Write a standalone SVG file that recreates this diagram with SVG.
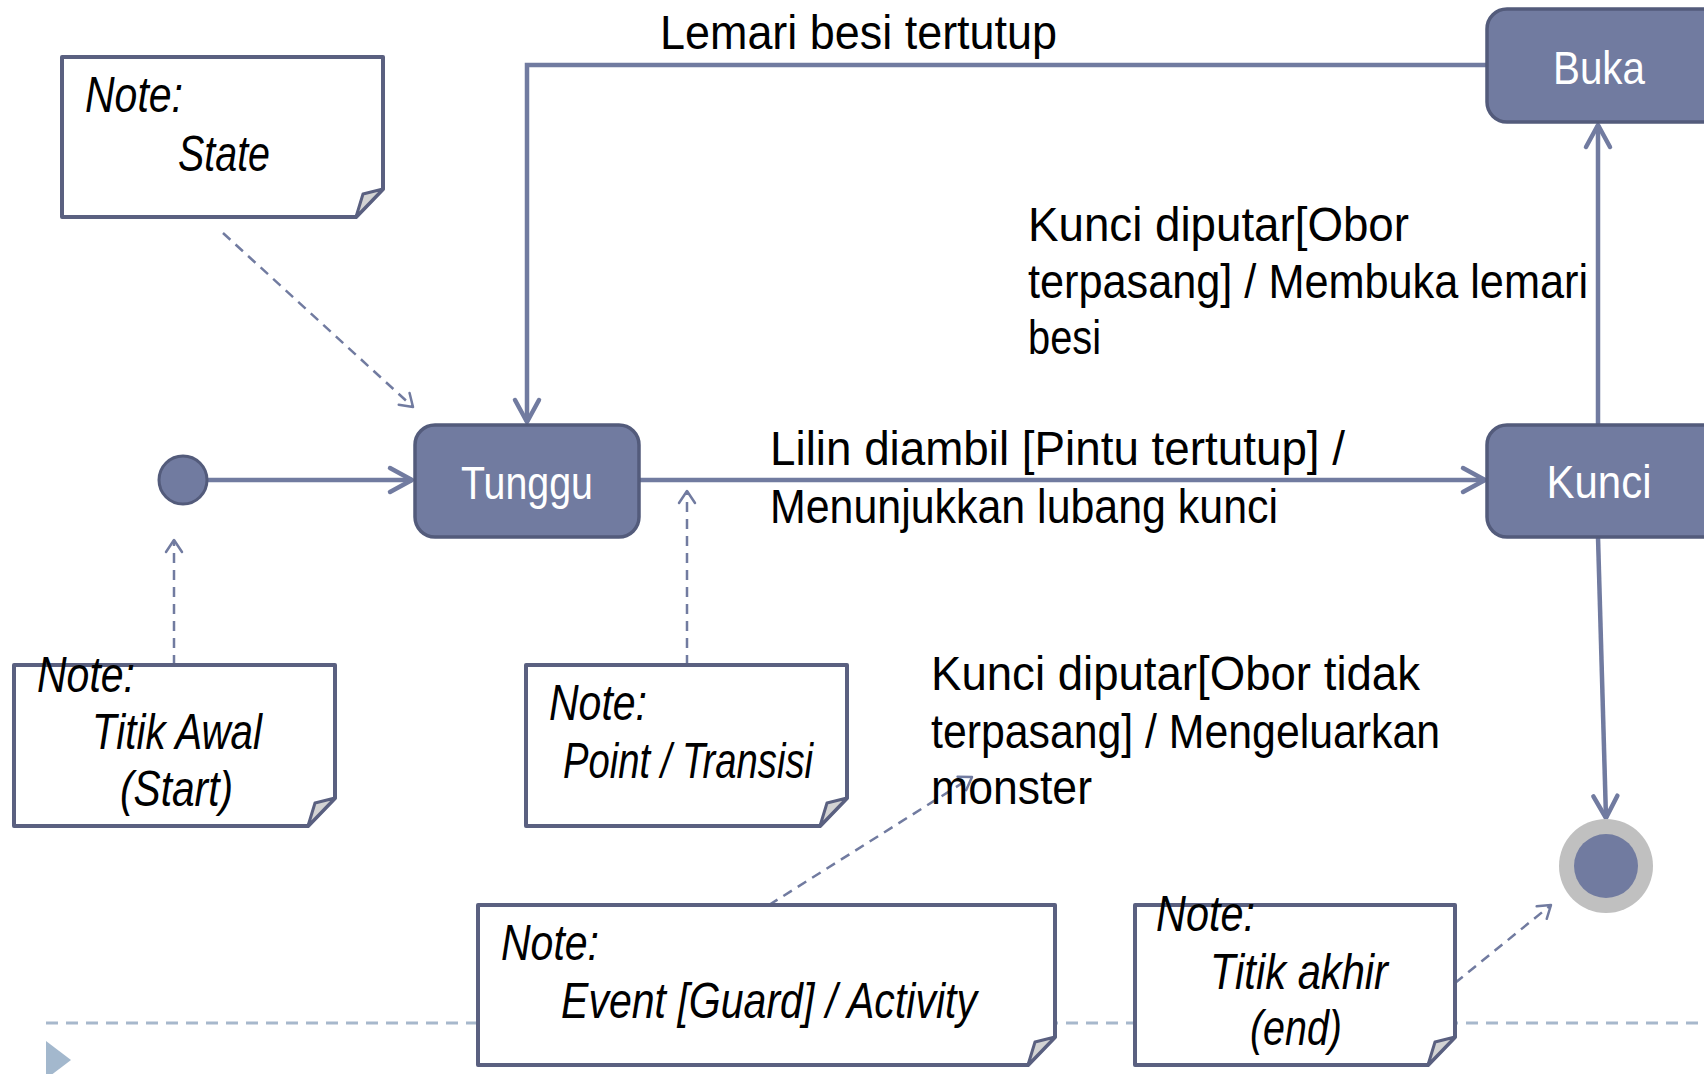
<svg xmlns="http://www.w3.org/2000/svg" width="1704" height="1074" viewBox="0 0 1704 1074">
  <style>
    .state { fill: #717BA0; stroke: #535B7B; stroke-width: 3.5; }
    .state-text { font-family: "Liberation Sans", Arial, sans-serif; font-size: 47px; fill: #FFFFFF; text-anchor: middle; }
    .flow { fill: none; stroke: #717BA0; stroke-width: 4.5; }
    .link { fill: none; stroke: #717BA0; stroke-width: 2.5; stroke-dasharray: 10 7; }
    .label { font-family: "Liberation Sans", Arial, sans-serif; font-size: 48px; fill: #000000; }
    .note-box { fill: #FFFFFF; stroke: #5A6080; stroke-width: 4; stroke-linejoin: round; }
    .note-fold { fill: #D3D3D3; stroke: #5A6080; stroke-width: 3; stroke-linejoin: round; }
    .note-text { font-family: "Liberation Sans", Arial, sans-serif; font-size: 50px; font-style: italic; fill: #000000; }
  </style>
  <defs>
    <marker id="arrow" markerUnits="userSpaceOnUse" markerWidth="40" markerHeight="40" viewBox="-30 -20 40 40" refX="0" refY="0" orient="auto" overflow="visible">
      <path d="M-22,-12 L0,0 L-22,12" fill="none" stroke="#717BA0" stroke-width="4.5" stroke-linecap="round" stroke-linejoin="round"/>
    </marker>
    <marker id="arrow-thin" markerUnits="userSpaceOnUse" markerWidth="30" markerHeight="30" viewBox="-20 -15 30 30" refX="0" refY="0" orient="auto" overflow="visible">
      <path d="M-12,-8 L0,0 L-12,8" fill="none" stroke="#717BA0" stroke-width="2.5" stroke-linecap="round" stroke-linejoin="round"/>
    </marker>
  </defs>

  <rect width="1704" height="1074" fill="#FFFFFF"/>

  <!-- slide footer: dashed rule and bullet -->
  <g id="footer">
    <line x1="46" y1="1023" x2="1704" y2="1023" stroke="#A7B8CC" stroke-width="3" stroke-dasharray="12 8"/>
    <polygon points="46,1041 71,1060 46,1079" fill="#A3B8CD"/>
  </g>

  <!-- transitions and note links -->
  <g id="connectors">
    <line class="flow" x1="207" y1="480" x2="412" y2="480" marker-end="url(#arrow)"/>
    <line class="flow" x1="640" y1="480" x2="1485" y2="480" marker-end="url(#arrow)"/>
    <line class="flow" x1="1598" y1="425" x2="1598" y2="125" marker-end="url(#arrow)"/>
    <polyline class="flow" points="1487,65 527,65 527,422" marker-end="url(#arrow)"/>
    <line class="flow" x1="1598" y1="537" x2="1606" y2="818" marker-end="url(#arrow)"/>

    <line class="link" x1="223" y1="233" x2="413" y2="407" marker-end="url(#arrow-thin)"/>
    <line class="link" x1="174" y1="665" x2="174" y2="540" marker-end="url(#arrow-thin)"/>
    <line class="link" x1="687" y1="665" x2="687" y2="491" marker-end="url(#arrow-thin)"/>
    <line class="link" x1="769" y1="905" x2="972" y2="777" marker-end="url(#arrow-thin)"/>
    <line class="link" x1="1455" y1="983" x2="1551" y2="905" marker-end="url(#arrow-thin)"/>
  </g>

  <!-- transition labels -->
  <g id="labels">
    <text class="label" x="660" y="49" textLength="397" lengthAdjust="spacingAndGlyphs">Lemari besi tertutup</text>
    <text class="label" x="1028" y="241" textLength="381" lengthAdjust="spacingAndGlyphs">Kunci diputar[Obor</text>
    <text class="label" x="1028" y="298" textLength="560" lengthAdjust="spacingAndGlyphs">terpasang] / Membuka lemari</text>
    <text class="label" x="1028" y="354" textLength="73" lengthAdjust="spacingAndGlyphs">besi</text>
    <text class="label" x="770" y="465" textLength="575" lengthAdjust="spacingAndGlyphs">Lilin diambil [Pintu tertutup] /</text>
    <text class="label" x="770" y="523" textLength="508" lengthAdjust="spacingAndGlyphs">Menunjukkan lubang kunci</text>
    <text class="label" x="931" y="690" textLength="489" lengthAdjust="spacingAndGlyphs">Kunci diputar[Obor tidak</text>
    <text class="label" x="931" y="748" textLength="509" lengthAdjust="spacingAndGlyphs">terpasang] / Mengeluarkan</text>
    <text class="label" x="931" y="804" textLength="161" lengthAdjust="spacingAndGlyphs">monster</text>
  </g>

  <!-- pseudo-states -->
  <g id="start">
    <circle cx="183" cy="480" r="24" fill="#717BA0" stroke="#535B7B" stroke-width="3"/>
  </g>
  <g id="end">
    <circle cx="1606" cy="866" r="47" fill="#C0C0C0"/>
    <circle cx="1606" cy="866" r="32" fill="#717BA0"/>
  </g>

  <!-- states -->
  <g id="tunggu">
    <rect class="state" x="415" y="425" width="224" height="112" rx="20"/>
    <text class="state-text" x="527" y="499" textLength="132" lengthAdjust="spacingAndGlyphs">Tunggu</text>
  </g>
  <g id="kunci">
    <rect class="state" x="1487" y="425" width="240" height="112" rx="20"/>
    <text class="state-text" x="1599" y="498" textLength="105" lengthAdjust="spacingAndGlyphs">Kunci</text>
  </g>
  <g id="buka">
    <rect class="state" x="1487" y="9" width="240" height="113" rx="20"/>
    <text class="state-text" x="1599" y="84" textLength="92" lengthAdjust="spacingAndGlyphs">Buka</text>
  </g>

  <!-- notes -->
  <g id="note-state">
    <path class="note-box" d="M62,57 H383 V189 L356,217 H62 Z"/>
    <polygon class="note-fold" points="383,189 363,194 356,217"/>
    <text class="note-text" x="85" y="112" textLength="98" lengthAdjust="spacingAndGlyphs">Note:</text>
    <text class="note-text" x="178" y="171" textLength="92" lengthAdjust="spacingAndGlyphs">State</text>
  </g>
  <g id="note-start">
    <path class="note-box" d="M14,665 H335 V798 L308,826 H14 Z"/>
    <polygon class="note-fold" points="335,798 315,803 308,826"/>
    <text class="note-text" x="37" y="692" textLength="98" lengthAdjust="spacingAndGlyphs">Note:</text>
    <text class="note-text" x="92" y="749" textLength="170" lengthAdjust="spacingAndGlyphs">Titik Awal</text>
    <text class="note-text" x="120" y="806" textLength="113" lengthAdjust="spacingAndGlyphs">(Start)</text>
  </g>
  <g id="note-transition">
    <path class="note-box" d="M526,665 H847 V798 L820,826 H526 Z"/>
    <polygon class="note-fold" points="847,798 827,803 820,826"/>
    <text class="note-text" x="549" y="720" textLength="98" lengthAdjust="spacingAndGlyphs">Note:</text>
    <text class="note-text" x="563" y="778" textLength="250" lengthAdjust="spacingAndGlyphs">Point / Transisi</text>
  </g>
  <g id="note-event">
    <path class="note-box" d="M478,905 H1055 V1037 L1028,1065 H478 Z"/>
    <polygon class="note-fold" points="1055,1037 1035,1042 1028,1065"/>
    <text class="note-text" x="501" y="960" textLength="98" lengthAdjust="spacingAndGlyphs">Note:</text>
    <text class="note-text" x="561" y="1018" textLength="416" lengthAdjust="spacingAndGlyphs">Event [Guard] / Activity</text>
  </g>
  <g id="note-end">
    <path class="note-box" d="M1135,905 H1455 V1037 L1428,1065 H1135 Z"/>
    <polygon class="note-fold" points="1455,1037 1435,1042 1428,1065"/>
    <text class="note-text" x="1156" y="931" textLength="99" lengthAdjust="spacingAndGlyphs">Note:</text>
    <text class="note-text" x="1210" y="989" textLength="178" lengthAdjust="spacingAndGlyphs">Titik akhir</text>
    <text class="note-text" x="1250" y="1045" textLength="92" lengthAdjust="spacingAndGlyphs">(end)</text>
  </g>
</svg>
